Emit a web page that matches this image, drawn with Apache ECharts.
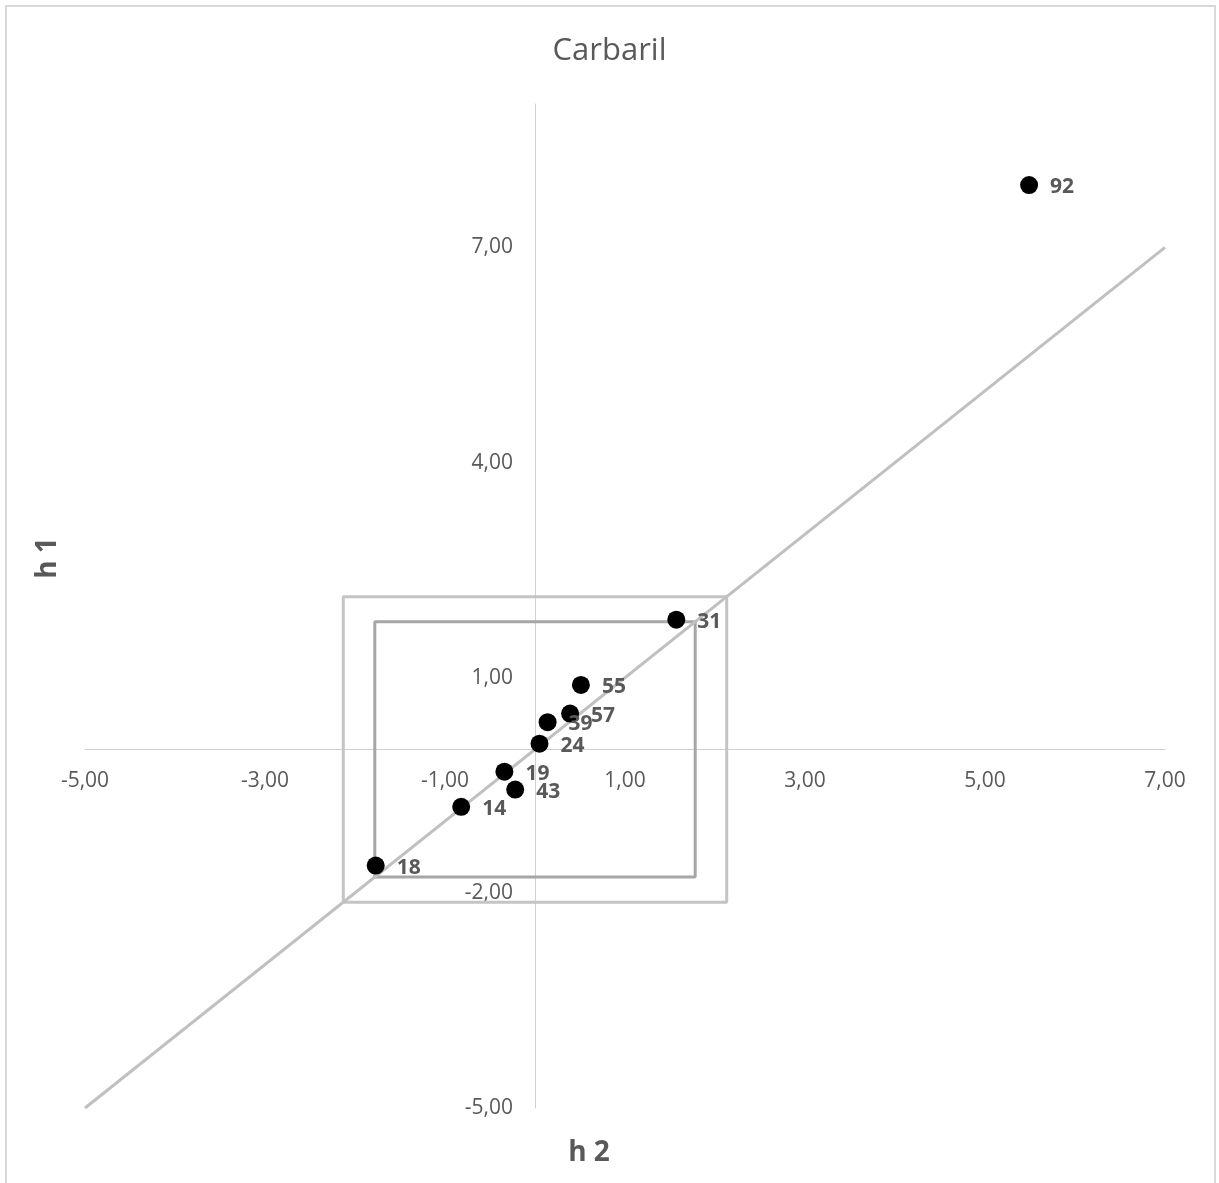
<!DOCTYPE html>
<html><head><meta charset="utf-8">
<script src="https://cdn.jsdelivr.net/npm/echarts@6/dist/echarts.min.js"></script>
<style>html,body{margin:0;padding:0;background:#fff}#c{width:1219px;height:1183px}</style>
</head><body><div id="c"></div>
<script>
// ---- data ----
const pointIds = ['92', '31', '55', '57', '39', '24', '19', '43', '14', '18'];
const h2Values = [5.49, 1.57, 0.51, 0.39, 0.14, 0.05, -0.34, -0.22, -0.82, -1.77];
const h1Values = [7.87, 1.81, 0.90, 0.50, 0.38, 0.08, -0.31, -0.56, -0.80, -1.62];
const xTickValues = [-5, -3, -1, 1, 3, 5, 7];
const yTickValues = [-5, -2, 1, 4, 7];
const yAxisMax = 9;
const outerLimit = 2.13;
const innerLimit = 1.78;
const diagonalEnds = [-5, 7];

// ---- build ----
const FONT = 'Open Sans';
const W = 1219, H = 1183;
const G = { left: 85, right: 54, top: 104, bottom: 75 };
const fmt = v => v.toFixed(2).replace('.', ',');
const scatterData = h2Values.map((x, i) => [x, h1Values[i], pointIds[i]]);
const box = L => [[-L, -L], [L, -L], [L, L], [-L, L], [-L, -L]];

const xMin = xTickValues[0], xMax = xTickValues[xTickValues.length - 1];
const yMin = yTickValues[0];
// shift axes (line + labels) so they cross at zero, like the original
const plotW = W - G.left - G.right, plotH = H - G.top - G.bottom;
const xAxisOffset = -plotH * (0 - yMin) / (yAxisMax - yMin);
const yAxisOffset = -plotW * (0 - xMin) / (xMax - xMin);

const chart = echarts.init(document.getElementById('c'));
chart.setOption({
  backgroundColor: '#ffffff',
  animation: false,
  title: {
    text: 'Carbaril', left: 'center', top: 31,
    textStyle: { fontFamily: FONT, fontSize: 31, fontWeight: 'normal', color: '#595959' }
  },
  grid: { left: G.left, right: G.right, top: G.top, bottom: G.bottom, containLabel: false },
  xAxis: {
    type: 'value', position: 'bottom', offset: xAxisOffset,
    min: xMin, max: xMax,
    interval: xTickValues[1] - xTickValues[0],
    axisLine: { onZero: false, lineStyle: { color: '#d0d0d0', width: 1 } },
    axisTick: { show: false },
    splitLine: { show: false },
    axisLabel: { formatter: fmt, margin: 21, fontFamily: FONT, fontSize: 21, color: '#595959',
      showMinLabel: true, showMaxLabel: true }
  },
  yAxis: {
    type: 'value', position: 'left', offset: yAxisOffset,
    min: yMin, max: yAxisMax,
    interval: yTickValues[1] - yTickValues[0],
    axisLine: { onZero: false, lineStyle: { color: '#d0d0d0', width: 1 } },
    axisTick: { show: false },
    splitLine: { show: false },
    axisLabel: { formatter: v => (yTickValues.includes(v) ? fmt(v) : ''), margin: 22, fontFamily: FONT, fontSize: 21, color: '#595959',
      showMinLabel: true, showMaxLabel: false }
  },
  series: [
    { type: 'line', data: box(outerLimit), symbol: 'none', silent: true, z: 1,
      lineStyle: { color: '#c4c4c4', width: 3 } },
    { type: 'line', data: box(innerLimit), symbol: 'none', silent: true, z: 1,
      lineStyle: { color: '#a6a6a6', width: 3 } },
    { type: 'line', data: [[diagonalEnds[0], diagonalEnds[0]], [diagonalEnds[1], diagonalEnds[1]]],
      symbol: 'none', silent: true, z: 2, lineStyle: { color: '#c0c0c0', width: 3 } },
    { type: 'scatter', data: scatterData, symbol: 'circle', symbolSize: 18, z: 3,
      itemStyle: { color: '#000000', opacity: 1 },
      label: { show: true, position: 'right', distance: 12, offset: [0, 2],
        formatter: p => p.value[2], fontFamily: FONT, fontSize: 21, fontWeight: 'bold', color: '#595959' } }
  ],
  graphic: [
    { type: 'rect', shape: { x: 6, y: 6, width: 1209, height: 1200 }, silent: true,
      style: { fill: 'none', stroke: '#d9d9d9', lineWidth: 2 } },
    { type: 'text', x: 589, y: 1153, silent: true,
      style: { text: 'h 2', font: 'bold 28px "Open Sans"', fill: '#595959', textAlign: 'center', textVerticalAlign: 'middle' } },
    { type: 'text', x: 48, y: 558, rotation: Math.PI / 2, silent: true,
      style: { text: 'h 1', font: 'bold 28px "Open Sans"', fill: '#595959', textAlign: 'center', textVerticalAlign: 'middle' } }
  ]
});
</script></body></html>
